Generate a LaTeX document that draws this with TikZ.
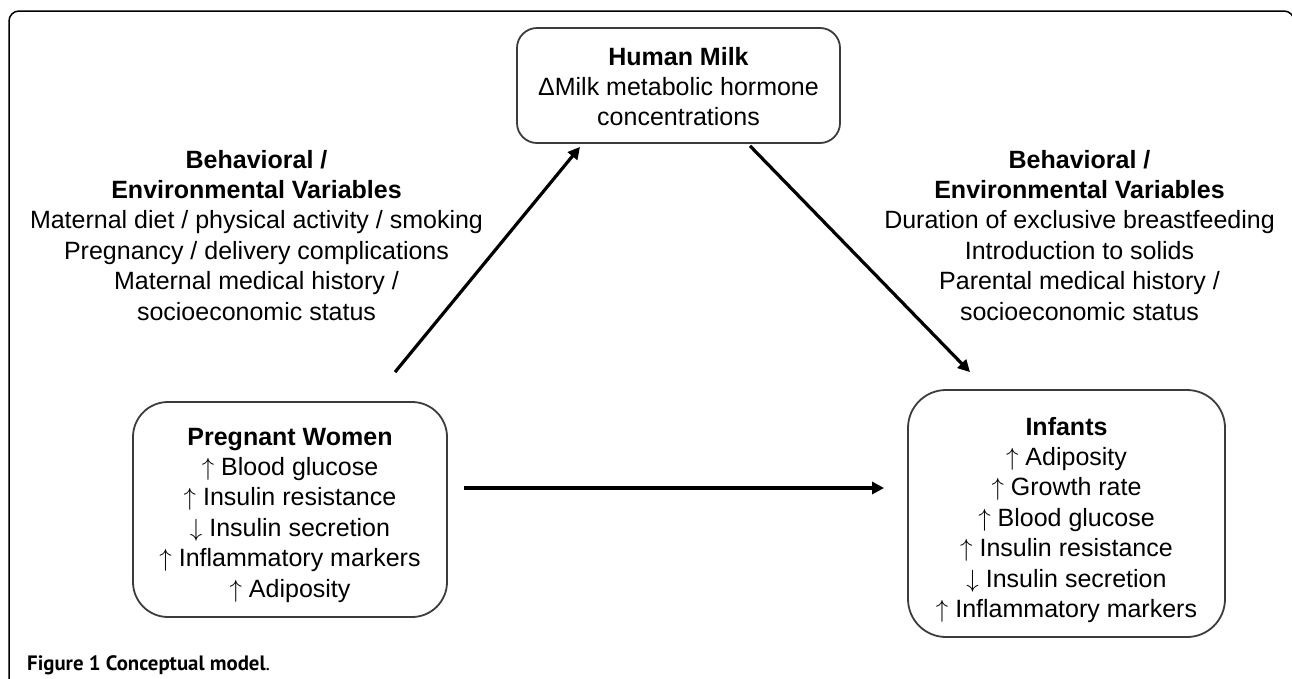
\documentclass[tikz,border=0pt]{standalone}
\usepackage{fontspec}
\setmainfont{Liberation Sans}
\newfontfamily\capfont{PT Sans}
\usetikzlibrary{arrows.meta,calc}
\definecolor{boxgray}{HTML}{3C3C3C}
\newcommand{\mylines}[1]{\begin{tabular}[t]{@{}c@{}}#1\end{tabular}}
\newcommand{\up}{\(\uparrow\)}
\newcommand{\down}{\(\downarrow\)}
\begin{document}
\begin{tikzpicture}[x=1pt,y=-1pt,
  box/.style={draw=boxgray,line width=1.8pt,rounded corners=#1,inner sep=0pt},
  txt/.style={inner sep=0pt,anchor=base,font=\fontsize{25}{30.4}\selectfont},
  arr/.style={line width=3.2pt,-{Triangle[length=12pt,width=12pt]}},
  frame/.style={line width=1.5pt,rounded corners=10pt}]
\useasboundingbox (0,0) rectangle (1292,678);
\clip (0,0) rectangle (1292,678);
% outer frame
\draw[frame] (9,690) -- (9,11) -- (1294,11) -- (1294,690);
% boxes
\node[box=20pt,minimum width=323pt,minimum height=115pt] (hm) at (678.5,85.5) {};
\node[box=35pt,minimum width=314pt,minimum height=215pt] (pw) at (290,509.5) {};
\node[box=38pt,minimum width=317pt,minimum height=247pt] (inf) at (1066.5,513.5) {};
% box texts
\node[txt] (hmtext) at (678.5,65) {\mylines{\textbf{Human Milk}\\ΔMilk metabolic hormone\\concentrations}};
\node[txt] (pwtext) at (290,445) {\mylines{\textbf{Pregnant Women}\\\up{} Blood glucose\\\up{} Insulin resistance\\\down{} Insulin secretion\\\up{} Inflammatory markers\\\up{} Adiposity}};
\node[txt] (inftext) at (1066.5,435) {\mylines{\textbf{Infants}\\\up{} Adiposity\\\up{} Growth rate\\\up{} Blood glucose\\\up{} Insulin resistance\\\down{} Insulin secretion\\\up{} Inflammatory markers}};
% variable texts
\node[txt] (lvars) at (256.5,168) {\mylines{\textbf{Behavioral /}\\\textbf{Environmental Variables}\\Maternal diet / physical activity / smoking\\Pregnancy / delivery complications\\Maternal medical history /\\socioeconomic status}};
\node[txt] (rvars) at (1079.5,168) {\mylines{\textbf{Behavioral /}\\\textbf{Environmental Variables}\\Duration of exclusive breastfeeding\\Introduction to solids\\Parental medical history /\\socioeconomic status}};
% arrows
\draw[arr] ($(pw.north)+(105,-29)$) -- ($(hm.south)+(-98.5,3)$);
\draw[arr] ($(hm.south)+(71.5,2)$) -- ($(inf.north)+(-96.5,-17)$);
\draw[arr] ($(pw.east)+(16,-21.5)$) -- ($(inf.west)+(-23,-25.5)$);
% caption
\node[inner sep=0pt,anchor=base west,font=\capfont\fontsize{20.8}{24}\selectfont] (cap) at (27,670) {\textbf{Figure 1 Conceptual model}.};
\end{tikzpicture}
\end{document}
